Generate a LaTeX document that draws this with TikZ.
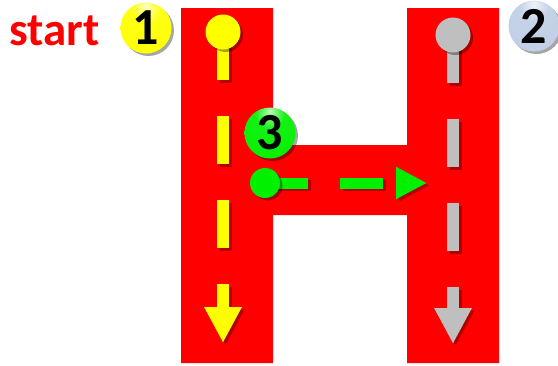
\documentclass[tikz,border=0pt]{standalone}
\usepackage{fontspec}
\setmainfont{Carlito}
\usetikzlibrary{arrows.meta,shadows}
\definecolor{hred}{RGB}{255,0,0}
\definecolor{pathyellow}{RGB}{255,255,0}
\definecolor{pathgray}{RGB}{191,191,191}
\definecolor{pathgreen}{RGB}{0,240,0}
\definecolor{ballblue}{RGB}{192,207,230}
\colorlet{ballbase}{yellow}
\pgfdeclareradialshading[ballbase]{glossball}{\pgfpoint{0bp}{22bp}}{%
  color(0bp)=(ballbase!25!white); color(14bp)=(ballbase!92!white); color(42bp)=(ballbase);
  color(58bp)=(ballbase!75!black); color(80bp)=(ballbase!50!black)}
% one stroke of the H with its shadow
\newcommand{\track}[3]{%
  \draw[#1, draw=black, opacity=0.3, transform canvas={shift={(2.5pt,-2.5pt)}}] (#2) -- (#3);
  \draw[#1] (#2) -- (#3);}
\tikzset{
  nodeshadow/.style={drop shadow={shadow xshift=2.5pt, shadow yshift=-2.5pt, opacity=0.35, fill=black}},
  numball/.style={circle, /utils/exec={\colorlet{ballbase}{#1}}, shading=glossball,
    minimum size=51pt, inner sep=0pt, font=\bfseries\fontsize{52}{52}\selectfont, text=black, nodeshadow},
  dot/.style={circle, fill=#1, minimum size=35pt, inner sep=0pt, nodeshadow},
  track/.style={draw=#1, line width=12pt, dash pattern=on 48pt off 36pt,
    -{Triangle[length=36pt, width=35pt]}}
}
\begin{document}
\begin{tikzpicture}[x=1pt, y=-1pt]
\useasboundingbox (0,0) rectangle (558,365);
% the letter H
\fill[hred] (181,8) -- (273,8) -- (273,145) -- (407,145) -- (407,8) -- (499,8)
  -- (499,363) -- (407,363) -- (407,215) -- (273,215) -- (273,363) -- (181,363) -- cycle;
% ends of the three strokes
\coordinate (ystart) at (223,32);  \coordinate (yend) at (223,343);
\coordinate (gstart) at (453,35);  \coordinate (gend) at (453,344);
\coordinate (cstart) at (265,183); \coordinate (cend) at (427,183);
\track{track=pathyellow}{ystart}{yend}
\track{track=pathgray}{gstart}{gend}
\track{track=pathgreen, line width=11pt, dash pattern=on 43pt off 32pt,
  -{Triangle[length=31pt, width=30pt]}}{cstart}{cend}
\node[dot=pathyellow] (ydot) at (ystart) {};
\node[dot=pathgray] (gdot) at (gstart) {};
\node[dot=pathgreen, minimum size=30pt] (cdot) at (cstart) {};
% numbered balls
\node[numball=pathyellow] (one) at (146,28) {1};
\node[numball=ballblue] (two) at (534,26) {2};
\node[numball=pathgreen] (three) at (270,133) {3};
\node[anchor=base west, text=hred, font=\bfseries\fontsize{47}{56}\selectfont, inner sep=0pt]
  (start) at (9,45) {start};
\end{tikzpicture}
\end{document}
